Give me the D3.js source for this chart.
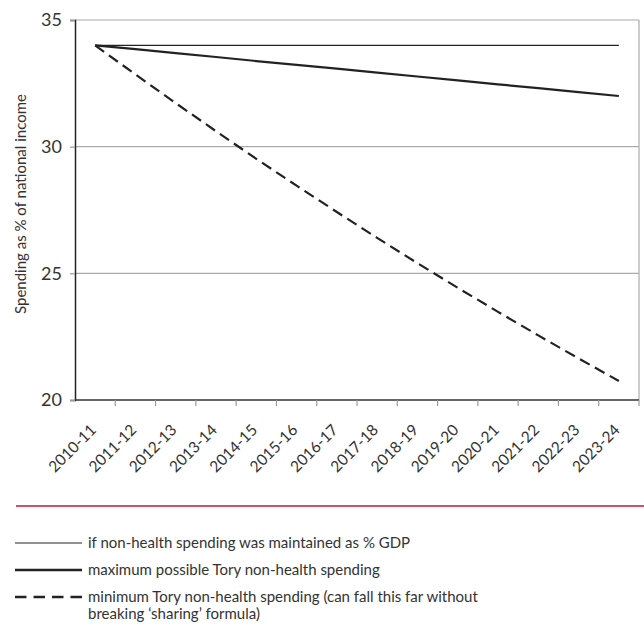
<!DOCTYPE html>
<html>
<head>
<meta charset="utf-8">
<script src="https://cdn.jsdelivr.net/npm/d3@7"></script>
<style>
  body { margin: 0; background: #fff; }
  text { font-family: Lato, "Open Sans", sans-serif; fill: #333; }
</style>
</head>
<body>
<div id="chart"></div>
<script>
var years = ['2010-11', '2011-12', '2012-13', '2013-14', '2014-15', '2015-16', '2016-17',
    '2017-18', '2018-19', '2019-20', '2020-21', '2021-22', '2022-23', '2023-24'];

// spending as % of national income
var maintained = [34, 34, 34, 34, 34, 34, 34, 34, 34, 34, 34, 34, 34, 34];
var maxTory = [34, 33.85, 33.69, 33.54, 33.38, 33.23, 33.08, 32.92, 32.77, 32.62, 32.46, 32.31, 32.15, 32.0];
var minTory = [34, 32.85, 31.72, 30.61, 29.52, 28.46, 27.42, 26.40, 25.40, 24.43, 23.48, 22.55, 21.64, 20.75];

var yTicks = [20, 25, 30, 35];

var legendLabels = [
    ['if non-health spending was maintained as % GDP'],
    ['maximum possible Tory non-health spending'],
    ['minimum Tory non-health spending (can fall this far without', 'breaking \u2018sharing\u2019 formula)']
];

var width = 644, height = 639;
var margin = { left: 75, right: 5, top: 20 };
var plotBottom = 400;

var svg = d3.select('#chart')
    .append('svg')
    .attr('width', width)
    .attr('height', height);

var x = d3.scaleBand()
    .domain(years)
    .range([margin.left, width - margin.right]);

var y = d3.scaleLinear()
    .domain([20, 35])
    .range([plotBottom, margin.top]);

//gridlines
svg.append('g')
    .selectAll('line')
    .data(yTicks.filter(function(d) { return d > 20; }))
    .enter().append('line')
    .attr('x1', margin.left)
    .attr('x2', width - margin.right)
    .attr('y1', function(d) { return y(d); })
    .attr('y2', function(d) { return y(d); })
    .attr('stroke', '#aaa')
    .attr('stroke-width', 1.2);

//right border
svg.append('line')
    .attr('x1', width - margin.right).attr('x2', width - margin.right)
    .attr('y1', y(35)).attr('y2', y(20))
    .attr('stroke', '#aaa')
    .attr('stroke-width', 1.2);

//y axis
var yAxis = svg.append('g')
    .attr('transform', 'translate(' + margin.left + ',0)')
    .call(d3.axisLeft(y).tickValues(yTicks).tickSize(5).tickPadding(8));
yAxis.select('.domain').attr('stroke', '#222').attr('stroke-width', 1.5);
yAxis.selectAll('.tick line').attr('stroke', '#999').attr('stroke-width', 1.2);
yAxis.selectAll('.tick text')
    .style('font-size', '18px')
    .attr('fill', '#333');

//x axis, ticks on band edges
var xAxis = svg.append('g')
    .attr('transform', 'translate(0,' + plotBottom + ')');
xAxis.append('line')
    .attr('x1', margin.left).attr('x2', width - margin.right)
    .attr('stroke', '#333').attr('stroke-width', 1.5);
xAxis.selectAll('.edge')
    .data(years.slice(1).concat(['end']))
    .enter().append('line')
    .attr('class', 'edge')
    .attr('x1', function(d, i) { return margin.left + x.step() * (i + 1); })
    .attr('x2', function(d, i) { return margin.left + x.step() * (i + 1); })
    .attr('y1', 0).attr('y2', 6)
    .attr('stroke', '#999').attr('stroke-width', 1.2);
xAxis.selectAll('.lbl')
    .data(years)
    .enter().append('text')
    .attr('class', 'lbl')
    .attr('text-anchor', 'end')
    .style('font-size', '15.5px')
    .attr('transform', function(d) {
        return 'translate(' + (x(d) + x.bandwidth() / 2 + 2) + ',31) rotate(-45)';
    })
    .text(function(d) { return d; });

//y label
svg.append('text')
    .attr('transform', 'translate(26,' + 204 + ') rotate(-90)')
    .attr('text-anchor', 'middle')
    .style('font-size', '15px')
    .text('Spending as % of national income');

//lines
var line = d3.line()
    .x(function(d, i) { return x(years[i]) + x.bandwidth() / 2; })
    .y(function(d) { return y(d); });

var styles = [
    { width: 1.2, dash: null },
    { width: 2.2, dash: null },
    { width: 2.2, dash: '11,6' }
];

svg.selectAll('.series')
    .data([maintained, maxTory, minTory])
    .enter().append('path')
    .attr('class', 'series')
    .attr('fill', 'none')
    .attr('stroke', '#222')
    .attr('stroke-width', function(d, i) { return styles[i].width; })
    .attr('stroke-dasharray', function(d, i) { return styles[i].dash; })
    .attr('d', line);

//red separator
svg.append('line')
    .attr('x1', 16).attr('x2', width)
    .attr('y1', 506).attr('y2', 506)
    .attr('stroke', '#c0143c')
    .attr('stroke-width', 1.5);

//legend
var legendY = [543, 570, 597];
var legend = svg.selectAll('.legend')
    .data(legendLabels)
    .enter().append('g')
    .attr('class', 'legend')
    .attr('transform', function(d, i) { return 'translate(0,' + legendY[i] + ')'; });

legend.append('line')
    .attr('x1', 15).attr('x2', 82)
    .attr('stroke', '#222')
    .attr('stroke-width', function(d, i) { return i === 0 ? 1 : 2.6; })
    .attr('stroke-dasharray', function(d, i) { return i === 2 ? '11.5,7' : null; });

legend.each(function(d) {
    var t = d3.select(this).append('text')
        .attr('x', 88)
        .attr('y', 5)
        .style('font-size', '15px');
    d.forEach(function(s, j) {
        t.append('tspan').attr('x', 88).attr('dy', j === 0 ? 0 : 17).text(s);
    });
});
</script>
</body>
</html>
